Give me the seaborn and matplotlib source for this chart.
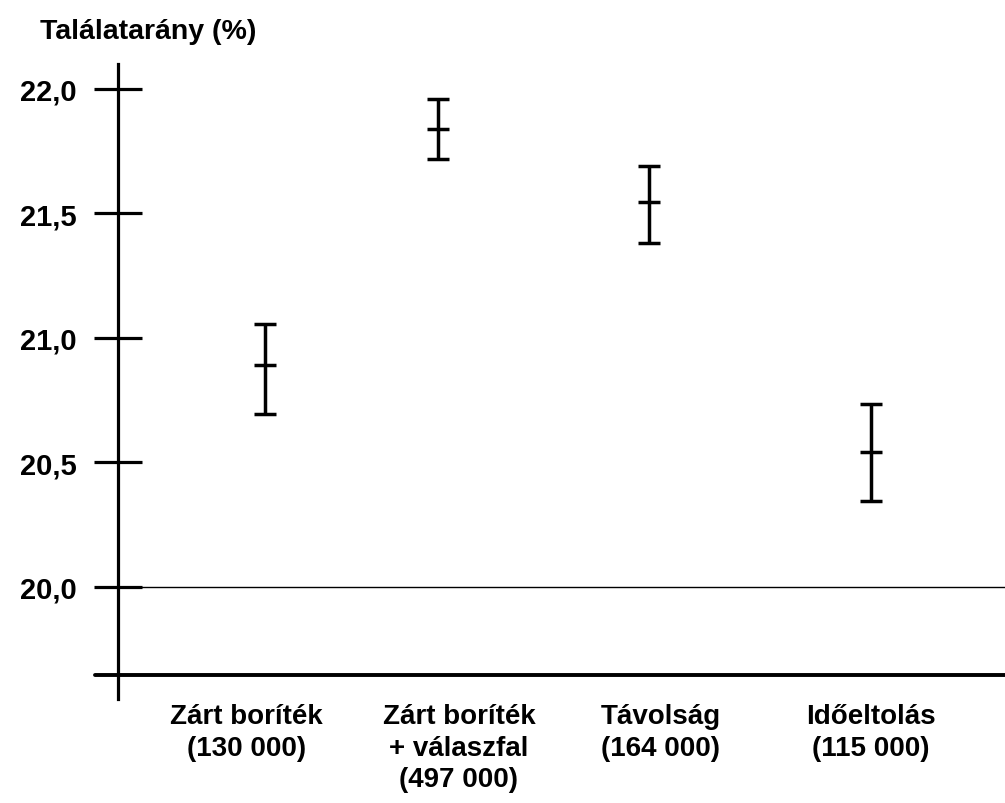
import matplotlib
matplotlib.use("Agg")
import matplotlib.pyplot as plt
import seaborn as sns
import pandas as pd

# data
categories = ["Zárt boríték\n(130 000)",
              "Zárt boríték\n+ válaszfal\n(497 000)",
              "Távolság\n(164 000)",
              "Időeltolás\n(115 000)"]
hit_rate = [20.89, 21.84, 21.545, 20.54]
ci_low = [20.695, 21.72, 21.38, 20.345]
ci_high = [21.055, 21.96, 21.69, 20.735]
y_ticks = [20.0, 20.5, 21.0, 21.5, 22.0]
y_tick_labels = ["20,0", "20,5", "21,0", "21,5", "22,0"]

# layout (category positions are uneven in the original)
point_x = [0.0, 0.856, 1.901, 3.0]
label_x = [-0.09, 0.96, 1.96, 3.0]

df = pd.DataFrame({"cat": categories, "rate": hit_rate,
                   "lo": ci_low, "hi": ci_high, "x": point_x})

sns.set_style("white")
plt.rcParams["font.family"] = ["Liberation Sans", "DejaVu Sans"]
plt.rcParams["text.color"] = "black"

fig = plt.figure(figsize=(10.05, 8.04), dpi=100)
ax = fig.add_axes([0.1174, 0.1294, 0.8826, 0.7898])

ax.errorbar(df["x"], df["rate"],
            yerr=[df["rate"] - df["lo"], df["hi"] - df["rate"]],
            fmt="_", color="black", ecolor="black", elinewidth=2.5,
            capsize=8, capthick=2.5, markersize=16, markeredgewidth=2.5)

ax.set_xlim(-0.728, 3.663)
ax.set_ylim(19.55, 22.10)

# baseline and 20,0 line
ax.axhline(20.0, color="black", lw=1.0)
ax.axhline(19.647, xmin=-0.026, xmax=1.0, color="black", lw=2.8, clip_on=False)

for s in ["top", "right", "bottom"]:
    ax.spines[s].set_visible(False)
ax.spines["left"].set_linewidth(2.3)
ax.spines["left"].set_color("black")

ax.set_yticks(y_ticks)
ax.set_yticklabels(y_tick_labels, fontsize=21, fontweight="bold", color="black")
ax.tick_params(axis="y", left=True, direction="inout", length=35, width=2.3,
               color="black", pad=12)

ax.set_xticks(label_x)
ax.set_xticklabels(df["cat"], fontsize=20, fontweight="bold", color="black",
                   linespacing=1.27)
ax.tick_params(axis="x", bottom=False, length=0, pad=3)

fig.text(0.040, 0.960, "Találatarány (%)", fontsize=20.5, fontweight="bold",
         ha="left", va="center", color="black")

fig.savefig("out.png", dpi=100)
